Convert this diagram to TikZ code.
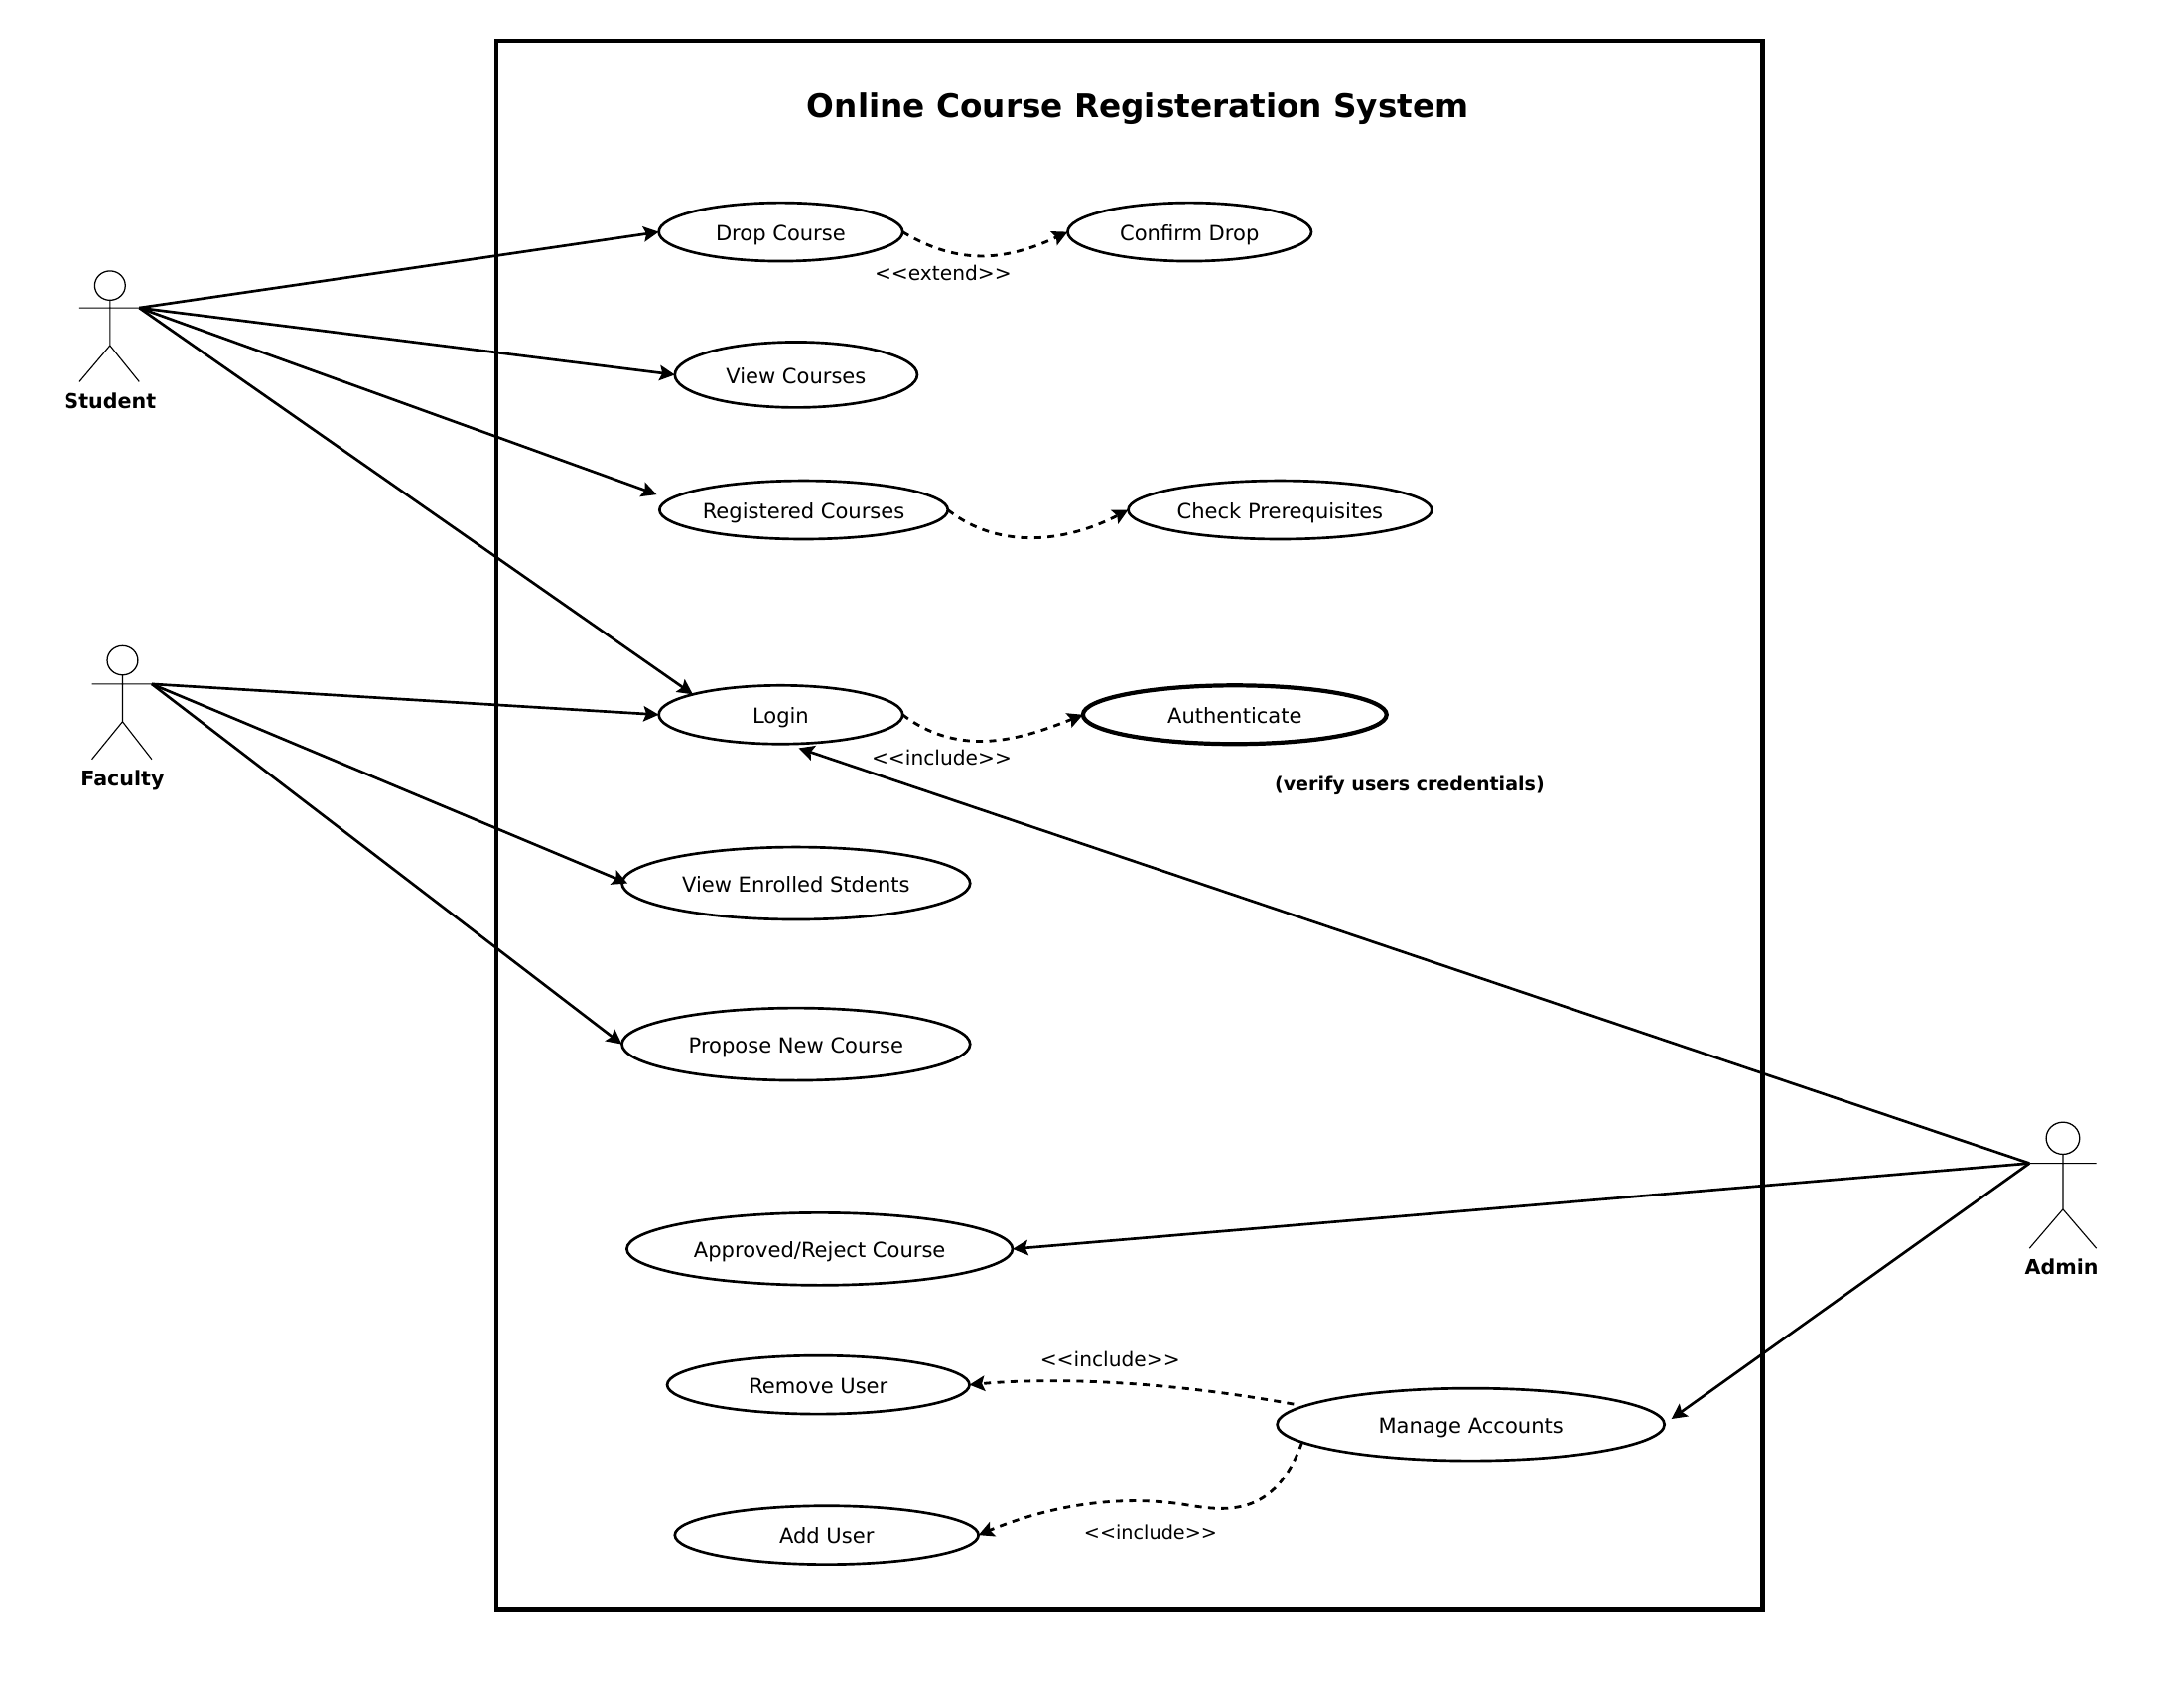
\documentclass[tikz,border=0pt]{standalone}
\usepackage{fontspec}
\setmainfont{DejaVu Sans}
\usetikzlibrary{shapes.geometric,arrows.meta}
\tikzset{
  x=1pt,y=-1pt,
  usecase/.style={draw=black,ellipse,line width=1.9pt,inner sep=0pt,outer sep=0pt,fill=white,text height=15.5pt,text depth=3pt,font=\fontsize{15}{18}\selectfont},
  label/.style={inner sep=0pt,text height=13.5pt,text depth=3pt,font=\fontsize{14.4}{18}\selectfont},
  actorlabel/.style={inner sep=0pt,text height=13pt,text depth=3pt,font=\fontsize{14.7}{18}\selectfont\bfseries},
  actorline/.style={line width=0.8pt,draw=black},
  head/.style={draw=black,ellipse,line width=0.9pt,inner sep=0pt,outer sep=0pt},
  assoc/.style={line width=1.9pt,-{Stealth[length=11pt,width=11pt,inset=2pt]}},
  dep/.style={line width=2pt,dash pattern=on 5pt off 4.5pt,-{Stealth[length=11pt,width=11pt,inset=2pt]}},
}
\begin{document}
\begin{tikzpicture}
\useasboundingbox (0,0) rectangle (1568,1212);
\node[draw=black,line width=3pt,inner sep=0pt,minimum width=909pt,minimum height=1126pt] (frame) at (811,592) {};
\node[inner sep=0pt,font=\fontsize{23.3}{27}\selectfont\bfseries] (title) at (817,78) {Online Course Registeration System};

\node[usecase,minimum width=175pt,minimum height=42pt] (drop) at (560.5,166.5) {Drop Course};
\node[usecase,minimum width=175pt,minimum height=42pt] (confirm) at (854,166.5) {Confirm Drop};
\node[usecase,minimum width=174pt,minimum height=47pt] (view) at (571.5,269) {View Courses};
\node[usecase,minimum width=207pt,minimum height=42pt] (reg) at (577,366) {Registered Courses};
\node[usecase,minimum width=218pt,minimum height=42pt] (check) at (919,366) {Check Prerequisites};
\node[usecase,minimum width=175pt,minimum height=42pt] (login) at (560.5,513) {Login};
\node[usecase,line width=3pt,minimum width=218pt,minimum height=42pt] (auth) at (886.5,513) {Authenticate};
\node[usecase,minimum width=250pt,minimum height=52pt] (enrolled) at (571.5,634) {View Enrolled Stdents};
\node[usecase,minimum width=250pt,minimum height=52pt] (propose) at (571.5,749.5) {Propose New Course};
\node[usecase,minimum width=277pt,minimum height=52pt] (approve) at (588.5,896.5) {Approved/Reject Course};
\node[usecase,minimum width=217pt,minimum height=42pt] (remove) at (587.5,994) {Remove User};
\node[usecase,minimum width=218pt,minimum height=42pt] (add) at (593.5,1102) {Add User};
\node[usecase,minimum width=278pt,minimum height=52pt] (manage) at (1056,1022.5) {Manage Accounts};

% actors
\node[head,minimum width=22pt,minimum height=21pt] (sHead) at (79,205) {};
\coordinate (sBody) at (79,248);
\coordinate (sHand) at (100,221);
\coordinate (sArm) at (57,221);
\coordinate (sL) at (57,274);
\coordinate (sR) at (100,274);
\draw[actorline] (sHead.south) -- (sBody) (sArm) -- (sHand) (sL) -- (sBody) -- (sR);
\node[actorlabel] (student) at (79,288) {Student};

\node[head,minimum width=22pt,minimum height=21pt] (fHead) at (88,474) {};
\coordinate (fBody) at (88,518);
\coordinate (fHand) at (109,491);
\coordinate (fArm) at (66,491);
\coordinate (fL) at (66,545);
\coordinate (fR) at (109,545);
\draw[actorline] (fHead.south) -- (fBody) (fArm) -- (fHand) (fL) -- (fBody) -- (fR);
\node[actorlabel] (faculty) at (88,559) {Faculty};

\node[head,minimum width=24pt,minimum height=23pt] (aHead) at (1481,817) {};
\coordinate (aBody) at (1481,868);
\coordinate (aHand) at (1457,835);
\coordinate (aArm) at (1505,835);
\coordinate (aL) at (1457,896);
\coordinate (aR) at (1505,896);
\draw[actorline] (aHead.south) -- (aBody) (aHand) -- (aArm) (aL) -- (aBody) -- (aR);
\node[actorlabel] (admin) at (1480,910) {Admin};

% associations
\draw[assoc] (sHand) -- (drop.west);
\draw[assoc] (sHand) -- (view.west);
\draw[assoc] (sHand) -- ([xshift=-2pt,yshift=11pt]reg.west);
\draw[assoc] (sHand) -- (login.167);
\draw[assoc] (fHand) -- (login.west);
\draw[assoc] (fHand) -- ([xshift=4pt]enrolled.west);
\draw[assoc] (fHand) -- (propose.west);
\draw[assoc] (aHand) -- ([xshift=13pt,yshift=-3pt]login.south);
\draw[assoc] (aHand) -- (approve.east);
\draw[assoc] (aHand) -- ([xshift=5pt,yshift=4pt]manage.east);

% dependencies
\draw[dep] (drop.east) .. controls (690,192) and (725,186) .. (confirm.west);
\draw[dep] (reg.east) .. controls (720,397) and (770,387) .. (check.west);
\draw[dep] (login.east) .. controls (690,545) and (735,530) .. (auth.west);
\draw[dep] ([xshift=-16pt,yshift=-1pt]manage.172) .. controls (830,990) and (750,989) .. (remove.east);
\draw[dep] (manage.186) .. controls (915,1090) and (880,1085) .. (850,1080) .. controls (805,1073) and (755,1080) .. (add.east);

% labels
\node[label] (l1) at (677,196) {<{}<extend>{}>};
\node[label] (l2) at (676,544) {<{}<include>{}>};
\node[label] (l3) at (797,976) {<{}<include>{}>};
\node[label,font=\fontsize{13.7}{17}\selectfont] (l4) at (826,1100) {<{}<include>{}>};
\node[inner sep=0pt,text height=13pt,text depth=3pt,font=\fontsize{13.6}{17}\selectfont\bfseries] (note) at (1012,563) {(verify users credentials)};
\end{tikzpicture}
\end{document}
